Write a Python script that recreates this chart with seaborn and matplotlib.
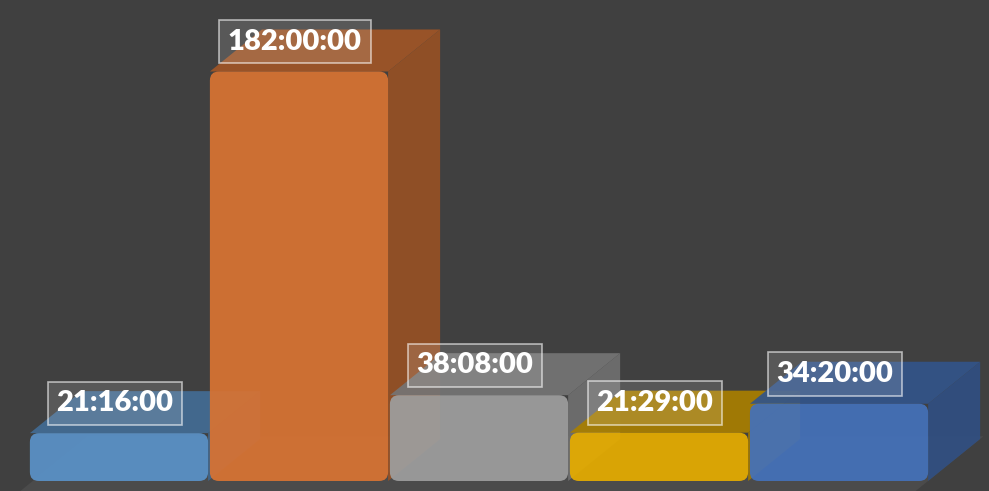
import numpy as np
import matplotlib.pyplot as plt
import seaborn as sns
from matplotlib.patches import Polygon, FancyBboxPatch
from matplotlib.colors import to_rgb

# data (durations shown as h:mm:ss)
categories = ["A", "B", "C", "D", "E"]
labels = ["21:16:00", "182:00:00", "38:08:00", "21:29:00", "34:20:00"]
colors = ["#5A92C8", "#D87333", "#9E9E9E", "#E5AC00", "#4471BA"]


def to_hours(s):
    h, m, sec = [int(p) for p in s.split(":")]
    return h + m / 60 + sec / 3600


hours = [to_hours(s) for s in labels]

BG = "#404040"
FLOOR = "#4B4B4B"
W_PX, H_PX = 989, 491
DEPTH_PX = (52, 42)  # 3d depth offset of the bars, in pixels

sns.set_style("dark")
plt.rcParams["font.family"] = ["Lato", "DejaVu Sans"]

fig = plt.figure(figsize=(W_PX / 100, H_PX / 100), dpi=100, facecolor=BG)
ax = fig.add_axes([0, 0, 1, 1])
ax.set_facecolor(BG)

sns.barplot(x=categories, y=hours, hue=categories, palette=colors,
            width=0.99, saturation=1, legend=False, ax=ax)

ax.set_xlim(-0.661, 4.833)
ax.set_ylim(-10 / 2.25, (H_PX - 10) / 2.25)
ax.axis("off")

# pixel -> data scale
x0, x1 = ax.get_xlim()
y0, y1 = ax.get_ylim()
sx = (x1 - x0) / W_PX
sy = (y1 - y0) / H_PX
ddx, ddy = DEPTH_PX[0] * sx, DEPTH_PX[1] * sy


def shade(c, f):
    r, g, b = to_rgb(c)
    return (r * f, g * f, b * f)


# floor
bars = [p for p in ax.patches]
fl = bars[0].get_x() - 12 * sx
fr = bars[-1].get_x() + bars[-1].get_width() - 15 * sx
fy = -12 * sy
fdx, fdy = ddx * 1.35, ddy * 1.35
ax.add_patch(Polygon([(fl, fy), (fr, fy), (fr + fdx, fy + fdy), (fl + fdx, fy + fdy)],
                     closed=True, facecolor=FLOOR, edgecolor="none", zorder=1))

rounding = 9 * sx
asp = sy / sx
for i, p in enumerate(bars):
    x, w, h = p.get_x(), p.get_width(), p.get_height()
    c = colors[i]
    z = 2 + i * 3
    p.set_visible(False)
    # side face
    side = [(x + w, 0), (x + w + ddx, ddy), (x + w + ddx, h + ddy), (x + w, h)]
    ax.add_patch(Polygon(side, closed=True, facecolor=shade(c, 0.7),
                         edgecolor="none", alpha=0.92, zorder=z))
    # top face
    top = [(x, h), (x + w, h), (x + w + ddx, h + ddy), (x + ddx, h + ddy)]
    ax.add_patch(Polygon(top, closed=True, facecolor=shade(c, 0.74),
                         edgecolor="none", alpha=0.92, zorder=z + 0.5))
    # rounded front face
    ax.add_patch(FancyBboxPatch((x, 0), w, h,
                                boxstyle=f"round,pad=0,rounding_size={rounding}",
                                mutation_aspect=asp, facecolor=c, edgecolor="none",
                                alpha=0.93, zorder=z + 1))
    # data label
    ax.annotate(labels[i], xy=(x + w / 2, h), xytext=(-3, 21.5),
                textcoords="offset points", ha="center", va="center",
                fontsize=21, fontweight="heavy", color="white", zorder=30,
                bbox=dict(boxstyle="square,pad=0.3", facecolor=(1, 1, 1, 0.13),
                          edgecolor=(1, 1, 1, 0.6), linewidth=1.2))

fig.savefig("out.png", dpi=100, facecolor=BG)
